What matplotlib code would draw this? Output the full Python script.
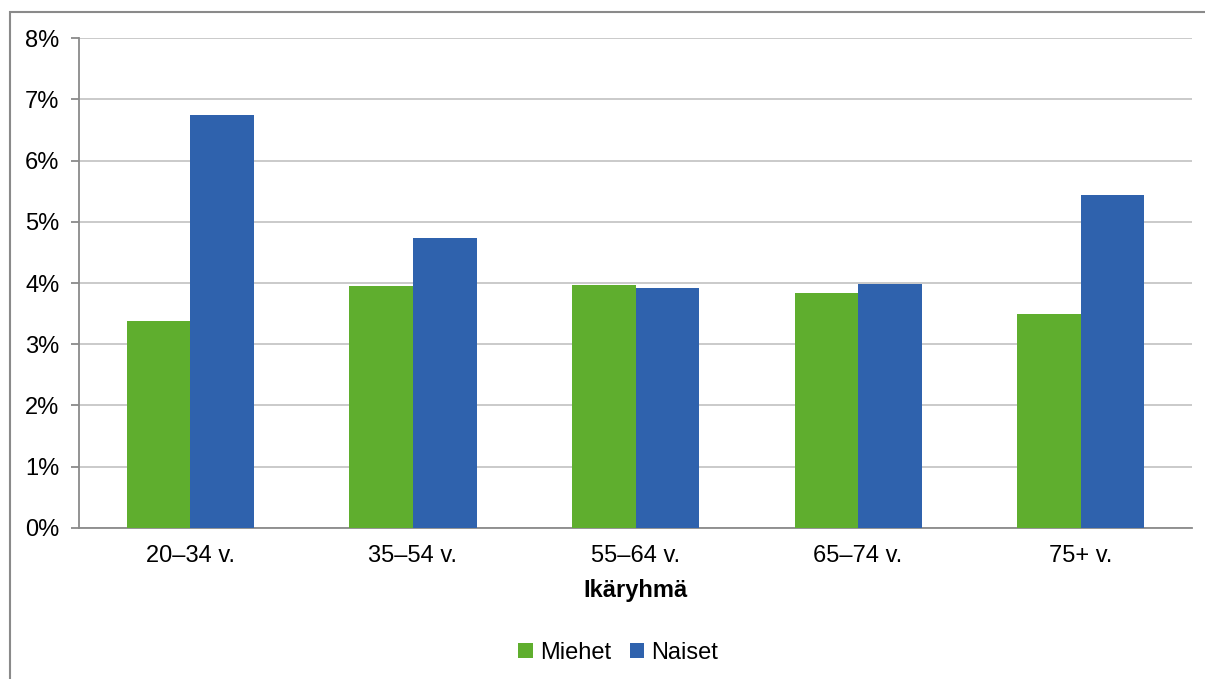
import matplotlib
matplotlib.use("Agg")
import matplotlib.pyplot as plt
from matplotlib.patches import Rectangle
from matplotlib.ticker import FuncFormatter
import numpy as np

plt.rcParams['font.family'] = ['Liberation Sans', 'DejaVu Sans']

# data
ikaryhmat = ['20–34 v.', '35–54 v.', '55–64 v.', '65–74 v.', '75+ v.']
miehet = [3.38, 3.95, 3.96, 3.83, 3.50]
naiset = [6.74, 4.73, 3.92, 3.99, 5.44]

GREEN = '#5fae2e'
BLUE = '#2f62ad'
GRID = '#c6c6c6'
AXIS = '#8a8a8a'
FS = 17

fig = plt.figure(figsize=(12.05, 6.79), dpi=100)
ax = fig.add_axes([0.0656, 0.2224, 0.9236, 0.7216])

# outer chart frame (right/bottom edges fall outside the picture)
fig.patches.append(Rectangle((10 / 1205, -0.05), 1.1, 1 - 12 / 679 + 0.05,
                             transform=fig.transFigure, fill=False,
                             edgecolor=AXIS, linewidth=1.5))

x = np.arange(len(ikaryhmat))
w = 0.2857
ax.bar(x - w / 2, miehet, w, color=GREEN, label='Miehet', zorder=3)
ax.bar(x + w / 2, naiset, w, color=BLUE, label='Naiset', zorder=3)

ax.set_xlim(-0.5, len(ikaryhmat) - 0.5)
ax.set_ylim(0, 8)
ax.set_yticks(range(0, 9))
ax.yaxis.set_major_formatter(FuncFormatter(lambda v, p: f'{int(v)}%'))
ax.grid(axis='y', color=GRID, linewidth=1.3, zorder=0)

for s in ['top', 'right']:
    ax.spines[s].set_visible(False)
for s in ['left', 'bottom']:
    ax.spines[s].set_color(AXIS)
    ax.spines[s].set_linewidth(1.3)

ax.set_xticks(x)
ax.set_xticklabels(ikaryhmat)
ax.tick_params(axis='x', length=0, pad=12, labelsize=FS)
ax.tick_params(axis='y', length=6, width=1.3, color=AXIS, pad=8, labelsize=FS)

ax.set_xlabel('Ikäryhmä', fontweight='bold', fontsize=FS, labelpad=9)

ax.legend(loc='center', bbox_to_anchor=(0.513, 0.038), bbox_transform=fig.transFigure,
          ncol=2, frameon=False, fontsize=FS, handlelength=0.6, handleheight=0.6,
          handletextpad=0.3, columnspacing=0.8)

fig.savefig('out.png', dpi=100)
